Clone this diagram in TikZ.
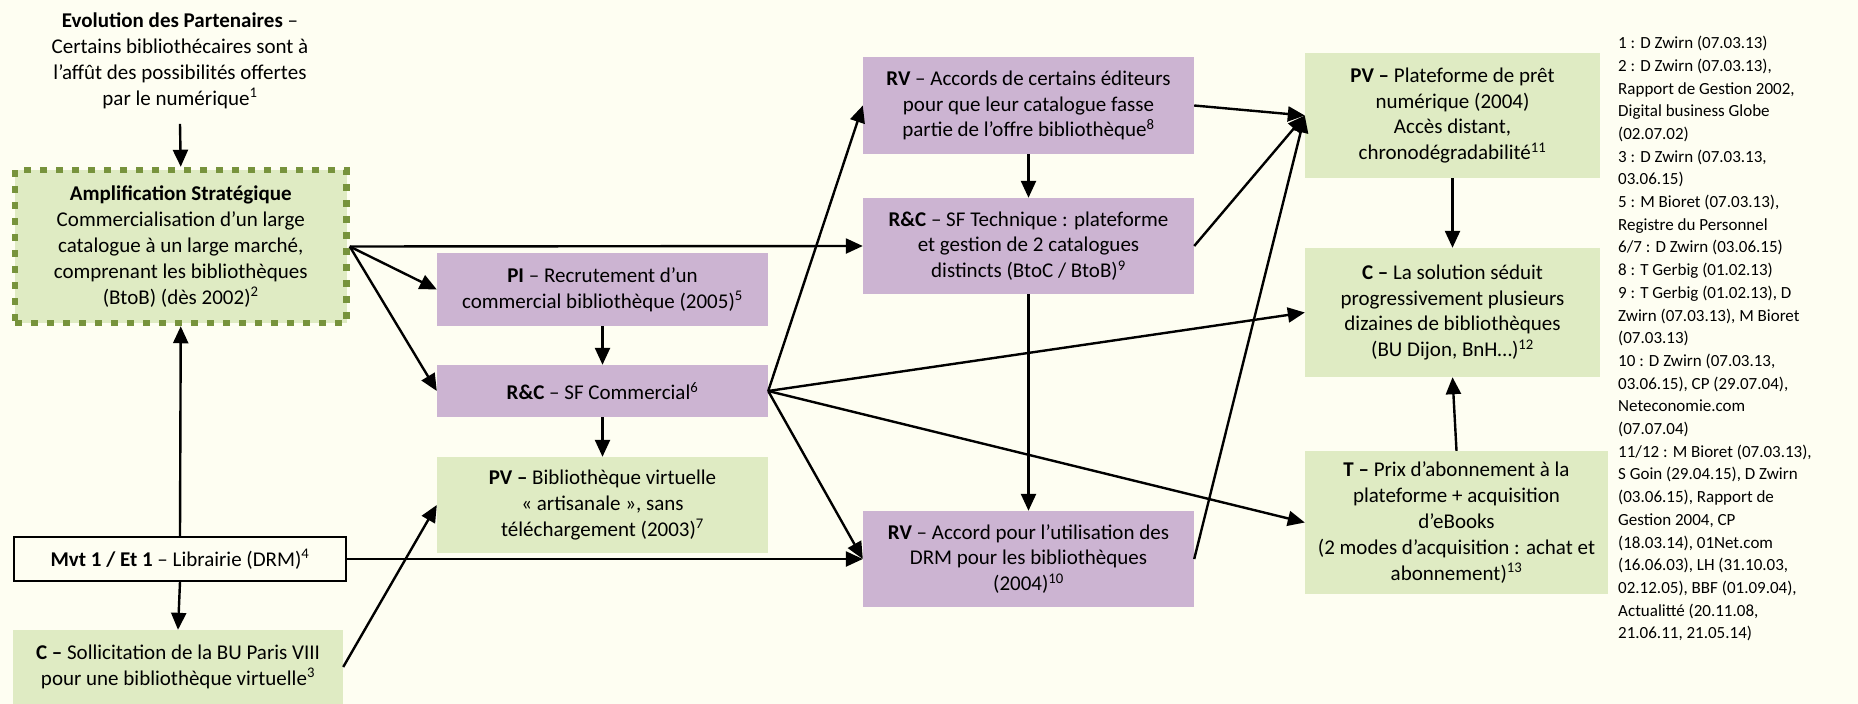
\documentclass[tikz,border=0pt]{standalone}
\usepackage{fontspec}
\setmainfont{Carlito}
\usetikzlibrary{arrows.meta}
\definecolor{bgc}{HTML}{FEFEF2}
\definecolor{gfill}{HTML}{DFEBC3}
\definecolor{pfill}{HTML}{CCB4D2}
\definecolor{olivec}{HTML}{77933C}
\newcommand{\mainfs}{\fontsize{21}{25.8}\selectfont}
\newcommand{\notefs}{\fontsize{17}{22.7}\selectfont}
\begin{document}
\begin{tikzpicture}[x=1pt,y=-1pt,
  bx/.style={rectangle, align=center, inner sep=0pt, font=\mainfs},
  gbox/.style={bx, fill=gfill},
  pbox/.style={bx, fill=pfill},
  arr/.style={line width=2.4pt, -{Triangle[length=17pt,width=15pt]}}
]
\useasboundingbox (0,0) rectangle (1858,704);
\fill[bgc] (0,0) rectangle (1858,704);

% left column
\node[bx, inner xsep=0pt, inner ysep=15pt] (evo) at (180,61)
  {\textbf{Evolution des Partenaires} –\\Certains bibliothécaires sont à\\l’affût des possibilités offertes\\par le numérique\textsuperscript{1}};
\node[gbox, draw=olivec, line width=6.5pt, dash pattern=on 7pt off 9pt,
  minimum width=331.5pt, minimum height=153pt] (amp) at (180.75,246.5)
  {\textbf{Amplification Stratégique}\\Commercialisation d’un large\\catalogue à un large marché,\\comprenant les bibliothèques\\(BtoB) (dès 2002)\textsuperscript{2}};
\node[bx, draw=black, line width=2pt, fill=bgc, minimum width=332pt, minimum height=44pt] (mvt) at (180,559)
  {\textbf{Mvt 1 / Et 1} – Librairie (DRM)\textsuperscript{4}};
\node[gbox, minimum width=330pt, minimum height=74pt] (cs) at (178,667)
  {\textbf{C –} Sollicitation de la BU Paris VIII\\pour une bibliothèque virtuelle\textsuperscript{3}};

% second column
\node[pbox, minimum width=331pt, minimum height=73pt] (pi) at (602.5,289.5)
  {\textbf{PI} – Recrutement d’un\\commercial bibliothèque (2005)\textsuperscript{5}};
\node[pbox, minimum width=331pt, minimum height=52pt] (rcc) at (602.5,391)
  {\textbf{R\&C} – SF Commercial\textsuperscript{6}};
\node[gbox, minimum width=331pt, minimum height=96pt] (pva) at (602.5,505)
  {\textbf{PV –} Bibliothèque virtuelle\\«~artisanale~», sans\\téléchargement (2003)\textsuperscript{7}};

% third column
\node[pbox, minimum width=331pt, minimum height=97pt] (rv1) at (1028.5,105.5)
  {\textbf{RV} – Accords de certains éditeurs\\pour que leur catalogue fasse\\partie de l’offre bibliothèque\textsuperscript{8}};
\node[pbox, minimum width=331pt, minimum height=96pt] (rct) at (1028.5,246)
  {\textbf{R\&C} – SF Technique : plateforme\\et gestion de 2 catalogues\\distincts (BtoC / BtoB)\textsuperscript{9}};
\node[pbox, minimum width=331pt, minimum height=96pt] (rv2) at (1028.5,559)
  {\textbf{RV} – Accord pour l’utilisation des\\DRM pour les bibliothèques\\(2004)\textsuperscript{10}};

% fourth column
\node[gbox, minimum width=295pt, minimum height=125pt] (pvp) at (1452.5,115.5)
  {\textbf{PV –} Plateforme de prêt\\numérique (2004)\\Accès distant,\\chronodégradabilité\textsuperscript{11}};
\node[gbox, minimum width=295pt, minimum height=129pt] (cc) at (1452.5,312.5)
  {\textbf{C –} La solution séduit\\progressivement plusieurs\\dizaines de bibliothèques\\(BU Dijon, BnH…)\textsuperscript{12}};
\node[gbox, minimum width=303pt, minimum height=143pt] (t) at (1456.5,522.5)
  {\textbf{T –} Prix d’abonnement à la\\plateforme + acquisition\\d’eBooks\\(2 modes d’acquisition : achat et\\abonnement)\textsuperscript{13}};

% notes
\node[anchor=north west, align=left, inner sep=0pt, font=\notefs] (notes) at (1618,36)
  {1 : D Zwirn (07.03.13)\\
   2 : D Zwirn (07.03.13),\\
   Rapport de Gestion 2002,\\
   Digital business Globe\\
   (02.07.02)\\
   3 : D Zwirn (07.03.13,\\
   03.06.15)\\
   5 : M Bioret (07.03.13),\\
   Registre du Personnel\\
   6/7 : D Zwirn (03.06.15)\\
   8 : T Gerbig (01.02.13)\\
   9 : T Gerbig (01.02.13), D\\
   Zwirn (07.03.13), M Bioret\\
   (07.03.13)\\
   10 : D Zwirn (07.03.13,\\
   03.06.15), CP (29.07.04),\\
   Neteconomie.com\\
   (07.07.04)\\
   11/12 : M Bioret (07.03.13),\\
   S Goin (29.04.15), D Zwirn\\
   (03.06.15), Rapport de\\
   Gestion 2004, CP\\
   (18.03.14), 01Net.com\\
   (16.06.03), LH (31.10.03,\\
   02.12.05), BBF (01.09.04),\\
   Actualitté (20.11.08,\\
   21.06.11, 21.05.14)};

% connectors
\draw[arr] (evo.south) -- (amp.north);
\draw[arr] (mvt.north) -- (amp.south);
\draw[arr] (mvt.south) -- (cs.north);
\draw[arr] (amp.east) -- (rct.west);
\draw[arr] (amp.east) -- (pi.west);
\draw[arr] (amp.east) -- (rcc.west);
\draw[arr] (pi.south) -- (rcc.north);
\draw[arr] (rcc.south) -- (pva.north);
\draw[arr] (rcc.east) -- (rv1.west);
\draw[arr] (rcc.east) -- (cc.west);
\draw[arr] (rcc.east) -- (t.west);
\draw[arr] (rcc.east) -- (rv2.west);
\draw[arr] (mvt.east) -- (rv2.west);
\draw[arr] (cs.east) -- (pva.west);
\draw[arr] (rv1.south) -- (rct.north);
\draw[arr] (rct.south) -- (rv2.north);
\draw[arr] (rv1.east) -- (pvp.west);
\draw[arr] (rct.east) -- (pvp.west);
\draw[arr] (rv2.east) -- (pvp.west);
\draw[arr] (pvp.south) -- (cc.north);
\draw[arr] (t.north) -- (cc.south);
\end{tikzpicture}
\end{document}
